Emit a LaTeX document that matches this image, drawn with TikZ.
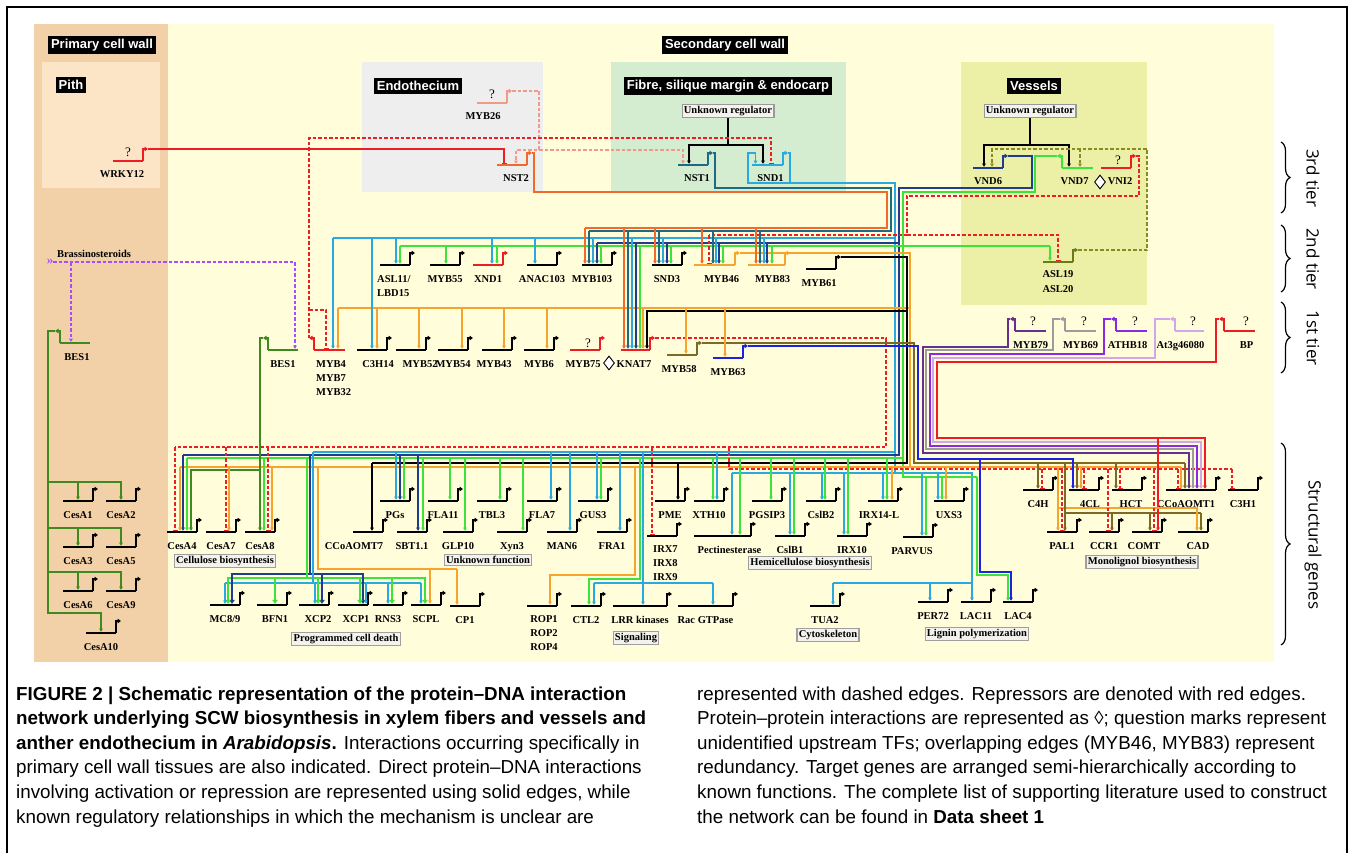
\documentclass[tikz,border=0pt]{standalone}
\usepackage{fontspec}
\newfontfamily\genefam{Liberation Serif}
\newfontfamily\sansfam{Liberation Sans}
\newfontfamily\tierfam{Open Sans}
\usetikzlibrary{
  calc, % For coordinate calculations
  arrows.meta, % For arrow tips
  shapes.geometric, % For the interaction diamonds
  decorations.pathreplacing % For the tier braces
}

\definecolor{ctan}{HTML}{F2D1A8}
\definecolor{cpith}{HTML}{FCE4C7}
\definecolor{cyellow}{HTML}{FFFDDA}
\definecolor{cendo}{HTML}{EEEEEE}
\definecolor{cfibre}{HTML}{D4EDD0}
\definecolor{cvessel}{HTML}{ECEFA6}
\definecolor{cred}{HTML}{EE1C25}
\definecolor{csalmon}{HTML}{F2998A}
\definecolor{cnst}{HTML}{F26A2A}
\definecolor{cteal}{HTML}{1D6B82}
\definecolor{cblue}{HTML}{2AA8E0}
\definecolor{cdblue}{HTML}{213C8E}
\definecolor{cgreen}{HTML}{3DE23D}
\definecolor{colive}{HTML}{6B7A18}
\definecolor{colived}{HTML}{8A8A22}
\definecolor{corange}{HTML}{F7A42E}
\definecolor{cbrown}{HTML}{7D6A22}
\definecolor{cmybb}{HTML}{1E22E0}
\definecolor{cpurple}{HTML}{66308E}
\definecolor{cgrey}{HTML}{9C9C9C}
\definecolor{cviolet}{HTML}{8A2BE2}
\definecolor{clviolet}{HTML}{D2A6EA}
\definecolor{cbes}{HTML}{3E8A1E}
\definecolor{cbrass}{HTML}{A64DFF}
\definecolor{cbox}{HTML}{F3F2EC}

% gene with promoter arrow on the right: [label shift]{name}{x}{y}{width}{colour}{label}
\newcommand{\geneR}[7][0]{%
  \draw[genebar,#6] (#3,#4) -- ++(#5,0) coordinate (#2-e);
  \draw[promoter,#6] (#2-e) -- ++(0,-12) -- ++(5,0) coordinate (#2-o);
  \coordinate (#2) at ($(#3,#4)+(#5/2,0)$);
  \node[genelabel] (#2-l) at ($(#2)+(#1,17)$) {#7};
}
% gene with promoter arrow on the left
\newcommand{\geneL}[7][0]{%
  \draw[genebar,#6] (#3,#4) coordinate (#2-s) -- ++(#5,0);
  \draw[promoter,#6] (#2-s) -- ++(0,-12) -- ++(-5,0) coordinate (#2-o);
  \coordinate (#2) at ($(#3,#4)+(#5/2,0)$);
  \node[genelabel] (#2-l) at ($(#2)+(#1,17)$) {#7};
}

\begin{document}
\begin{tikzpicture}[
    x=1pt, y=-1pt, % pixel grid, y downwards
    genebar/.style={line width=2.6pt},
    promoter/.style={line width=1.6pt, -{Triangle[length=3.5pt,width=4.5pt]}},
    link/.style={line width=1.1pt},
    act/.style={link, -{Triangle[length=3.2pt,width=3.6pt]}, shorten >=1.2pt},
    rep/.style={link, -{Bar[width=5pt]}, shorten >=1.3pt},
    dsh/.style={dash pattern=on 3.5pt off 2pt},
    bigact/.style={line width=2.6pt, -{Triangle[length=4pt,width=5.5pt]}, shorten >=1.2pt},
    genelabel/.style={font=\genefam\bfseries\fontsize{10.5}{13}\selectfont, inner sep=0pt, anchor=base},
    qmark/.style={font=\genefam\fontsize{13}{14}\selectfont, inner sep=0pt},
    tissue/.style={fill=black, text=white, font=\sansfam\bfseries\fontsize{13}{15}\selectfont, inner sep=3pt},
    regulator/.style={draw=gray!80, line width=1.2pt, fill=cbox, font=\genefam\bfseries\fontsize{10.5}{12}\selectfont, inner sep=1.8pt},
    grouplabel/.style={draw=gray!75, line width=1.3pt, fill=cbox, font=\genefam\bfseries\fontsize{10.5}{12}\selectfont, inner sep=1.8pt},
    ppi/.style={diamond, draw, fill=white, line width=0.9pt, minimum width=11pt, minimum height=14pt, inner sep=0pt},
    tierbrace/.style={decorate, decoration={brace, amplitude=9pt}, line width=1.2pt},
    tier/.style={rotate=-90, font=\tierfam\fontsize{17}{19}\selectfont, inner sep=0pt},
    captext/.style={anchor=base west, inner sep=0pt, font=\sansfam\fontsize{18.8}{25}\selectfont},
  ]
  \useasboundingbox (0,0) rectangle (1354,853);

  % backgrounds
  \fill[ctan] (34,24) rectangle (168,662);
  \fill[cpith] (42,62) rectangle (160,188);
  \fill[cyellow] (168,24) rectangle (1274,662);
  \fill[cendo] (362,62) rectangle (543,192);
  \fill[cfibre] (611,62) rectangle (846,192);
  \fill[cvessel] (961,62) rectangle (1147,305);
  \draw[line width=1.8pt] (7,880) -- (7,7) -- (1347,7) -- (1347,880);

  % tissue labels
  \node[tissue] (pcw) at (102,45) {Primary cell wall};
  \node[tissue] (pith) at (71,85) {Pith};
  \node[tissue] (scw) at (725,45) {Secondary cell wall};
  \node[tissue] (endo) at (418,86) {Endothecium};
  \node[tissue] (fibre) at (728,86) {Fibre, silique margin \& endocarp};
  \node[tissue] (vess) at (1034,86) {Vessels};
  \node[regulator] (ur1) at (728,111) {Unknown regulator};
  \node[regulator] (ur2) at (1030,111) {Unknown regulator};

  % 3rd tier
  \geneR[-6]{WRKY12}{113}{161}{30}{cred}{WRKY12}
  \geneR[-9]{MYB26}{477}{103}{30}{csalmon}{MYB26}
  \geneR[4]{NST2}{497}{165}{30}{cnst}{NST2}
  \geneR[4]{NST1}{678}{165}{30}{cteal}{NST1}
  \geneR[3]{SND1}{752}{165}{31}{cblue}{SND1}
  \geneR{VND6}{973}{168}{30}{cdblue}{VND6}
  \geneL[-3]{VND7}{1062}{168}{31}{cgreen}{VND7}
  \geneR[4]{VNI2}{1101}{168}{30}{cred}{VNI2}
  \node[ppi] (ppi2) at (1100,182) {};
  \geneR{ASL19}{1043}{262}{30}{colive}{}
  \node[genelabel] (ASL19-l) at (1058,277) {ASL19};
  \node[genelabel] (ASL20-l) at (1058,292) {ASL20};

  % 2nd tier
  \geneR{ASL11}{380}{265}{30}{black}{}
  \node[genelabel, anchor=base west] (ASL11-l) at (377,282) {ASL11/};
  \node[genelabel, anchor=base west] (LBD15-l) at (377,296) {LBD15};
  \geneR{MYB55}{430}{265}{30}{black}{MYB55}
  \geneR{XND1}{473}{265}{30}{cred}{XND1}
  \geneR{ANAC103}{527}{265}{30}{black}{ANAC103}
  \geneR[-5]{MYB103}{582}{265}{30}{black}{MYB103}
  \geneR{SND3}{652}{265}{30}{black}{SND3}
  \geneR[7]{MYB46}{694}{265}{41}{corange}{MYB46}
  \geneR[6]{MYB83}{748}{265}{37}{corange}{MYB83}
  \geneR[-2]{MYB61}{806}{269}{30}{black}{MYB61}

  % 1st tier
  \geneL{BESb}{268}{350}{30}{cbes}{BES1}
  \geneL{MYB4}{314}{350}{31}{cred}{}
  \node[genelabel, anchor=base west] (MYB4-l) at (316,367) {MYB4};
  \node[genelabel, anchor=base west] (MYB7-l) at (316,381) {MYB7};
  \node[genelabel, anchor=base west] (MYB32-l) at (316,395) {MYB32};
  \geneR[6]{C3H14}{357}{350}{30}{black}{C3H14}
  \geneR[9]{MYB52}{396}{350}{30}{black}{MYB52}
  \geneR{MYB54}{438}{350}{30}{black}{MYB54}
  \geneR[-3]{MYB43}{482}{350}{30}{black}{MYB43}
  \geneR{MYB6}{524}{350}{30}{black}{MYB6}
  \geneR{MYB75}{570}{350}{30}{cred}{}
  \geneR{KNAT7}{621}{350}{29}{cred}{}
  \node[genelabel] (MYB75-l) at (583,367) {MYB75};
  \node[genelabel] (KNAT7-l) at (634,367) {KNAT7};
  \node[ppi] (ppi1) at (609,363) {};
  \geneR[-3]{MYB58}{667}{355}{30}{cbrown}{MYB58}
  \geneR{MYB63}{713}{358}{30}{cmybb}{MYB63}
  \geneL{MYB79}{1015}{331}{31}{cpurple}{MYB79}
  \geneL{MYB69}{1065}{331}{31}{cgrey}{MYB69}
  \geneL[-4]{ATHB18}{1116}{331}{31}{cviolet}{ATHB18}
  \geneL[-9]{At3g}{1175}{331}{29}{clviolet}{At3g46080}
  \geneL[7]{BP}{1224}{331}{31}{cred}{BP}

  % question marks
  \node[qmark] (q1) at (128,152) {?};
  \node[qmark] (q2) at (492,94) {?};
  \node[qmark] (q3) at (1118,160) {?};
  \node[qmark] (q4) at (588,343) {?};
  \node[qmark] (q5) at (1033,321) {?};
  \node[qmark] (q6) at (1084,321) {?};
  \node[qmark] (q7) at (1135,321) {?};
  \node[qmark] (q8) at (1193,321) {?};
  \node[qmark] (q9) at (1246,321) {?};

  % primary cell wall
  \geneL[2]{BESa}{60}{343}{30}{cbes}{BES1}
  \geneR{CesA1}{63}{501}{30}{black}{CesA1}
  \geneR{CesA2}{106}{501}{30}{black}{CesA2}
  \geneR{CesA3}{63}{547}{30}{black}{CesA3}
  \geneR{CesA5}{106}{547}{30}{black}{CesA5}
  \geneR{CesA6}{63}{591}{30}{black}{CesA6}
  \geneR{CesA9}{106}{591}{30}{black}{CesA9}
  \geneR{CesA10}{86}{633}{30}{black}{CesA10}
  \node[genelabel] (br) at (94,257) {Brassinosteroids};
  \node[text=cbrass, font=\genefam\bfseries\fontsize{13}{13}\selectfont, inner sep=0pt] (brs) at (50,262) {»};

  % structural genes
  \geneR{CesA4}{167}{532}{30}{black}{CesA4}
  \geneR{CesA7}{206}{532}{30}{black}{CesA7}
  \geneR{CesA8}{245}{532}{30}{black}{CesA8}
  \geneR[-14]{CCoAOMT7}{353}{532}{30}{black}{CCoAOMT7}
  \geneR{PGs}{380}{501}{30}{black}{PGs}
  \geneR{SBT}{397}{532}{30}{black}{SBT1.1}
  \geneR{FLA11}{428}{501}{30}{black}{FLA11}
  \geneR{GLP10}{443}{532}{30}{black}{GLP10}
  \geneR{TBL3}{477}{501}{30}{black}{TBL3}
  \geneR{Xyn3}{497}{532}{30}{black}{Xyn3}
  \geneR{FLA7}{527}{501}{30}{black}{FLA7}
  \geneR{MAN6}{547}{532}{30}{black}{MAN6}
  \geneR{GUS3}{578}{501}{30}{black}{GUS3}
  \geneR{FRA1}{597}{532}{30}{black}{FRA1}
  \geneR{PME}{655}{501}{30}{black}{PME}
  \geneR{XTH10}{694}{501}{30}{black}{XTH10}
  \geneR{IRX7}{647}{536}{30}{black}{}
  \node[genelabel, anchor=base west] (IRX7-l) at (653,552) {IRX7};
  \node[genelabel, anchor=base west] (IRX8-l) at (653,566) {IRX8};
  \node[genelabel, anchor=base west] (IRX9-l) at (653,580) {IRX9};
  \geneR[7]{Pect}{694}{536}{57}{black}{Pectinesterase}
  \geneR{PGSIP3}{752}{501}{30}{black}{PGSIP3}
  \geneR{CslB2}{806}{501}{30}{black}{CslB2}
  \geneR{CslB1}{775}{536}{30}{black}{CslB1}
  \geneR[-4]{IRXL}{868}{501}{30}{black}{IRX14-L}
  \geneR{IRX10}{837}{536}{30}{black}{IRX10}
  \geneR{UXS3}{934}{501}{30}{black}{UXS3}
  \geneR[-6]{PARVUS}{903}{537}{30}{black}{PARVUS}
  \geneR{C4H}{1023}{490}{30}{black}{C4H}
  \geneR[6]{CL4}{1069}{490}{30}{black}{4CL}
  \geneR[4]{HCT}{1112}{490}{30}{black}{HCT}
  \geneR[-5]{CCoAOMT1}{1166}{490}{50}{black}{CCoAOMT1}
  \geneR{C3H1}{1228}{490}{30}{black}{C3H1}
  \geneR{PAL1}{1047}{532}{30}{black}{PAL1}
  \geneR{CCR1}{1089}{532}{30}{black}{CCR1}
  \geneR[-3]{COMT}{1132}{532}{30}{black}{COMT}
  \geneR[5]{CAD}{1178}{532}{30}{black}{CAD}
  \geneR{MC}{210}{605}{30}{black}{MC8/9}
  \geneR[3]{BFN1}{257}{605}{30}{black}{BFN1}
  \geneR[4]{XCP2}{299}{605}{30}{black}{XCP2}
  \geneR[3]{XCP1}{338}{605}{30}{black}{XCP1}
  \geneR{RNS3}{373}{605}{30}{black}{RNS3}
  \geneR{SCPL}{411}{605}{30}{black}{SCPL}
  \geneR{CP1}{450}{606}{30}{black}{CP1}
  \geneR{ROP1}{527}{606}{30}{black}{}
  \node[genelabel] (ROP1-l) at (544,622) {ROP1};
  \node[genelabel] (ROP2-l) at (544,636) {ROP2};
  \node[genelabel] (ROP4-l) at (544,650) {ROP4};
  \geneR{CTL2}{571}{606}{30}{black}{CTL2}
  \geneR{LRR}{613}{606}{54}{black}{LRR kinases}
  \geneR{Rac}{678}{606}{55}{black}{Rac GTPase}
  \geneR{TUA2}{810}{606}{30}{black}{TUA2}
  \geneR{PER72}{918}{602}{30}{black}{PER72}
  \geneR{LAC11}{961}{602}{30}{black}{LAC11}
  \geneR{LAC4}{1003}{602}{30}{black}{LAC4}

  % function groups
  \node[grouplabel] (gcell) at (225,561) {Cellulose biosynthesis};
  \node[grouplabel] (gunk) at (488,560) {Unknown function};
  \node[grouplabel] (ghemi) at (810,563) {Hemicellulose biosynthesis};
  \node[grouplabel] (gmono) at (1142,562) {Monolignol biosynthesis};
  \node[grouplabel] (gpcd) at (346,639) {Programmed cell death};
  \node[grouplabel] (gsig) at (636,638) {Signaling};
  \node[grouplabel] (gcyt) at (828,635) {Cytoskeleton};
  \node[grouplabel] (glig) at (977,634) {Lignin polymerization};

  % upstream regulators of the 3rd tier
  \draw[link] (ur1.south) -- (728,145) coordinate (ur1b);
  \draw[act] (ur1b) -| ($(NST1)+(-4,0)$);
  \draw[act] (ur1b) -| ($(SND1)+(-4.5,0)$);
  \draw[link] (ur2.south) -- (1030,145) coordinate (ur2b);
  \draw[act] (ur2b) -| ($(VND6)+(-4,0)$);
  \draw[act] (ur2b) -| ($(VND7)+(-8.5,0)$);
  \draw[rep,cred] (WRKY12-o) -| ($(NST2)+(-8,0)$);
  \draw[act,csalmon,dsh] (MYB26-o) -| (539,150) -| ($(NST2)+(4,0)$);
  \draw[act,csalmon,dsh] (539,150) -| ($(NST1)+(-10,0)$);
  \draw[rep,cred,dsh] (MYB4-o) |- ($(SND1)+(3.5,-27)$) -- ($(SND1)+(3.5,0)$);
  \draw[rep,cred,dsh] (MYB4-o |- 0,310) -| ($(MYB4)+(-3.5,0)$);
  \draw[act,colived,dsh] (ASL19-o) -| (1147,149) -| ($(VND6)+(4,0)$);
  \draw[act,colived,dsh] (1080,149) -- (1080,149 |- VND7);

  % master switches
  \draw[link,cnst] (NST2-o) -- ++(2,0) |- (887,192) |- (585,228);
  \draw[link,cteal] (NST1-o) -- ++(2,0) |- (891,188) |- (589,231);
  \draw[link,cblue] (SND1-o) -- ++(2,0) |- (895,183) -- (895,473);
  \draw[act,cblue] (790,183) -| (748,153) -| ($(SND1)+(-12,0)$);
  \draw[link,cblue] (895,238) -- (333,238);
  \draw[link,cblue] (895,452) -- (313,452);
  \draw[link,cblue] (732,473) -- (972,473) |- (833,583);
  \draw[link,cdblue] (VND6-o) -| (1032,188) -| (899,455) -- (183,455);
  \draw[link,cdblue] (899,243) -- (597,243);
  \draw[link,cgreen] (VND7-o) -| (1035,192) -| (903,477) -- (977,477);
  \draw[link,cgreen] (400,246) -- (1050,246);
  \draw[link,cgreen] (903,458) -- (187,458);
  \draw[act,cgreen] (977,477) |- (1008,575) -- ($(LAC4)+(-10,0)$);
  \draw[link,cred,dsh] (VNI2-o) -| (1139,196) -| (907,235) -- (709,235);
  \draw[rep,cred,dsh] (907,235) -| (ASL19);
  \draw[rep,cred,dsh] (709,235) -- (709,235 |- MYB46);

  % 2nd tier and 1st tier outputs
  \draw[link,corange] (MYB46-o) -- (910,253) -- (910,467);
  \draw[link,corange] (910,308) -- (338,308);
  \draw[link,corange] (180,467) -- (1181,467);
  \draw[act] (MYB61-o) -| (907,311) -| ($(KNAT7)+(11.5,0)$);
  \draw[link] (907,311) |- (372,463);
  \draw[link,cred,dsh] (KNAT7-o) -| (886,447) -- (175,447);
  \draw[link,cred,dsh] (729,447) |- (1232,469);
  \draw[link,cbrown] (MYB58-o) -| (914,463) -- (1185,463);
  \draw[link,cbrown] (1065,513) -- (1201,513);
  \draw[act,cmybb] (MYB63-o) -| (918,459) -| ($(CL4)+(-11,0)$);
  \draw[act,cmybb] (980,459) |- (1011,572) -- ($(LAC4)+(-7,0)$);
  \draw[act,cpurple] (MYB79-o) -- ++(-2,0) |- (923,347) |- (1189,453) -- (1189,453 |- CCoAOMT1);
  \draw[act,cgrey] (MYB69-o) -- ++(-7,0) |- (926,350) |- (1193,449) -- (1193,449 |- CCoAOMT1);
  \draw[act,cviolet] (ATHB18-o) -- ++(-7,0) |- (930,354) |- (1197,446) -- (1197,446 |- CCoAOMT1);
  \draw[act,clviolet] (At3g-o) -- ++(-15,0) |- (933,358) |- (1201,442) -- (1201,442 |- CCoAOMT1);
  \draw[act,cred] (BP-o) -- ++(-3,0) |- (937,362) |- (1205,438) -- (1205,438 |- CCoAOMT1);
  \draw[act,cred] (1158,438) -- (1158,438 |- COMT);

  % brassinosteroid signalling and BES1
  \draw[act,cbrass,dsh] (brs.east) -| ($(BESb)+(12,0)$);
  \draw[act,cbrass,dsh] (71,262) -- ($(BESa)+(-4,0)$);
  \draw[act,cbes] (BESa-o) -| (48,613) -| (CesA10);
  \foreach \yy/\a/\b in {482/CesA1/CesA2, 528/CesA3/CesA5, 572/CesA6/CesA9} {
    \draw[act,cbes] (48,\yy) -| (\b);
    \draw[act,cbes] (\a |- 48,\yy) -- (\a);
  }
  \draw[act,cbes] (BESb-o) -| (CesA8);
  \draw[act,cbes] (260,470) -| ($(CesA4)+(9,0)$);

  % drops onto the 2nd and 1st tier
  \foreach \x/\g in {585/MYB103,624/KNAT7,655/SND3,702/MYB46,756/MYB83}
    \draw[act,cnst] (\x,228) -- (\x,228 |- \g);
  \foreach \x/\g in {589/MYB103,628/KNAT7,659/SND3,713/MYB46,760/MYB83}
    \draw[act,cteal] (\x,231) -- (\x,231 |- \g);
  \foreach \x/\g in {333/MYB4,372/C3H14,396/ASL11,492/XND1,535/ANAC103,593/MYB103,632/KNAT7,663/SND3,716/MYB46,764/MYB83}
    \draw[act,cblue] (\x,238) -- (\x,238 |- \g);
  \foreach \x/\g in {597/MYB103,636/KNAT7,667/SND3,719/MYB46,767/MYB83}
    \draw[act,cdblue] (\x,243) -- (\x,243 |- \g);
  \foreach \x/\g in {400/ASL11,446/MYB55,497/XND1,601/MYB103,640/KNAT7,671/SND3,723/MYB46,772/MYB83,1050/ASL19}
    \draw[act,cgreen] (\x,246) -- (\x,246 |- \g);
  \foreach \x/\g in {338/MYB4,377/C3H14,419/MYB52,462/MYB54,504/MYB43,547/MYB6,643/KNAT7,686/MYB58,725/MYB63}
    \draw[act,corange] (\x,308) -- (\x,308 |- \g);

  % drops onto the structural genes
  \foreach \x/\g in {175/CesA4,226/CesA7,268/CesA8,652/IRX7}
    \draw[rep,cred,dsh] (\x,447) -- (\x,447 |- \g);
  \foreach \x/\g in {396/PGs,551/FLA7,570/MAN6,597/GUS3,620/FRA1,643/LRR,717/XTH10}
    \draw[act,cblue] (\x,452) -- (\x,452 |- \g);
  \foreach \x/\g in {183/CesA4,400/PGs,418/SBT}
    \draw[act,cdblue] (\x,455) -- (\x,455 |- \g);
  \foreach \x/\g in {187/CesA4,264/CesA8,404/PGs,423/SBT,450/FLA11,465/GLP10,500/TBL3,523/Xyn3,601/GUS3,713/XTH10,740/Pect,771/PGSIP3,794/CslB1,825/CslB2,848/IRX10,887/IRXL}
    \draw[act,cgreen] (\x,458) -- (\x,458 |- \g);
  \foreach \x/\g in {372/CCoAOMT7,678/PME}
    \draw[act] (\x,463) -- (\x,463 |- \g);
  \foreach \x/\g in {180/CesA4,229/CesA7,272/CesA8,892/IRXL,946/UXS3,1058/PAL1,1081/CL4,1181/CCoAOMT1}
    \draw[act,corange] (\x,467) -- (\x,467 |- \g);
  \draw[act,corange] (1058,508) -| ($(CAD)+(4,0)$);
  \foreach \x/\g in {1042/C4H,1062/PAL1,1084/CL4,1108/CCR1,1120/HCT,1154/COMT,1178/CCoAOMT1,1232/C3H1}
    \draw[rep,cred,dsh] (\x,469) -- (\x,469 |- \g);
  \foreach \x/\g in {732/Pect,790/CslB1,822/CslB2,844/IRX10,883/IRXL,922/PARVUS,938/UXS3}
    \draw[act,cblue] (\x,473) -- (\x,473 |- \g);
  \foreach \x/\g in {926/PARVUS,942/UXS3}
    \draw[act,cgreen] (\x,477) -- (\x,477 |- \g);
  \foreach \x/\g in {1038/C4H,1065/PAL1,1077/CL4,1116/HCT,1185/CCoAOMT1}
    \draw[act,cbrown] (\x,463) -- (\x,463 |- \g);
  \foreach \x/\g in {1112/CCR1,1150/COMT,1201/CAD}
    \draw[act,cbrown] (\x,513) -- (\x,513 |- \g);
  \foreach \x/\g in {833/TUA2,930/PER72,972/LAC11}
    \draw[act,cblue] (\x,583) -- (\x,583 |- \g);

  % programmed cell death and signalling
  \draw[line width=2.6pt,cdblue] (310,455) -- (310,574);
  \draw[line width=2.6pt,cdblue] (230.7,574) -- (364.3,574);
  \draw[line width=2.6pt,cgreen] (307,458) -- (307,578);
  \draw[line width=2.6pt,cgreen] (226.7,578) -- (426.3,578);
  \draw[link,cblue] (313,452) -- (313,583);
  \draw[link,cblue] (225,583) -- (421,583);
  \draw[link,corange] (318,467) |- (457,569);
  \foreach \x/\g in {232/MC,322/XCP2,363/XCP1}
    \draw[bigact,cdblue] (\x,574) -- (\x,574 |- \g);
  \foreach \x/\g in {228/MC,275/BFN1,318/XCP2,360/XCP1,392/RNS3,425/SCPL}
    \draw[bigact,cgreen] (\x,578) -- (\x,578 |- \g);
  \foreach \x/\g in {225/MC,315/XCP2,366/XCP1,388/RNS3,421/SCPL}
    \draw[act,cblue] (\x,583) -- (\x,583 |- \g);
  \foreach \x/\g in {430/SCPL,457/CP1}
    \draw[act,corange] (\x,569) -- (\x,569 |- \g);
  \draw[act,corange] (635,467) |- (550,575) -- (550,575 |- ROP1);
  \draw[act,cgreen] (640,458) |- (589,579) -- (589,579 |- CTL2);
  \draw[link,cblue] (594,583) -- (713,583);
  \foreach \x/\g in {594/CTL2,713/Rac}
    \draw[act,cblue] (\x,583) -- (\x,583 |- \g);

  % tiers
  \draw[tierbrace] (1281,142) -- (1281,213);
  \node[tier] (t3) at (1313,178) {3rd tier};
  \draw[tierbrace] (1281,225) -- (1281,292);
  \node[tier] (t2) at (1313,259) {2nd tier};
  \draw[tierbrace] (1281,302) -- (1281,373);
  \node[tier] (t1) at (1313,338) {1st tier};
  \draw[tierbrace] (1281,443) -- (1281,645);
  \node[tier] (ts) at (1313,545) {Structural genes};

  % caption
  \node[captext] (c1) at (16,700) {\bfseries FIGURE 2 | Schematic representation of the protein–DNA interaction};
  \node[captext] (c2) at (16,724.6) {\bfseries network underlying SCW biosynthesis in xylem fibers and vessels and};
  \node[captext] (c3) at (16,749.2) {\textbf{anther endothecium in \textit{Arabidopsis}.} Interactions occurring specifically in};
  \node[captext] (c4) at (16,773.8) {primary cell wall tissues are also indicated. Direct protein–DNA interactions};
  \node[captext] (c5) at (16,798.4) {involving activation or repression are represented using solid edges, while};
  \node[captext] (c6) at (16,823) {known regulatory relationships in which the mechanism is unclear are};
  \node[captext] (c7) at (697,700) {represented with dashed edges. Repressors are denoted with red edges.};
  \node[captext] (c8) at (697,724.6) {Protein–protein interactions are represented as ◊; question marks represent};
  \node[captext] (c9) at (697,749.2) {unidentified upstream TFs; overlapping edges (MYB46, MYB83) represent};
  \node[captext] (c10) at (697,773.8) {redundancy. Target genes are arranged semi-hierarchically according to};
  \node[captext] (c11) at (697,798.4) {known functions. The complete list of supporting literature used to construct};
  \node[captext] (c12) at (697,823) {the network can be found in \textbf{Data sheet 1}};
\end{tikzpicture}
\end{document}
